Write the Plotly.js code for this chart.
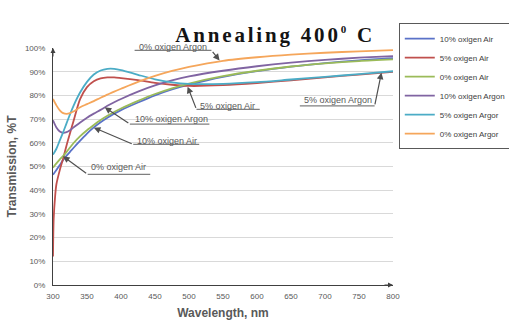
<!DOCTYPE html>
<html><head><meta charset="utf-8">
<script src="https://cdn.plot.ly/plotly-3.0.1.min.js"></script>
<style>
html,body{margin:0;padding:0;background:#fff;}
#chart{width:509px;height:320px;}
.gtitle{letter-spacing:2.8px;}
</style></head><body><div id="chart"></div>
<script>
// ---- data ----
const wavelength = [300, 305, 310, 315, 320, 325, 330, 340, 350, 360, 370, 380, 390, 400, 425, 450, 475, 500, 550, 600, 650, 700, 750, 800];
const air10   = [46.5, 48.5, 50.6, 52.8, 54.6, 56.2, 57.8, 60.9, 63.9, 66.5, 68.7, 70.6, 72.3, 73.8, 77.0, 80.0, 82.5, 84.5, 87.8, 90.2, 92.1, 93.6, 94.8, 95.7];
const air0    = [49.5, 51.3, 53.0, 54.5, 56.2, 58.0, 59.8, 62.8, 65.3, 67.5, 69.6, 71.4, 73.0, 74.5, 77.7, 80.6, 83.0, 85.0, 88.1, 90.4, 92.2, 93.5, 94.5, 95.2];
const argon10 = [69.5, 66.5, 64.8, 64.2, 64.5, 65.3, 66.4, 68.6, 70.6, 72.3, 73.9, 75.6, 77.1, 78.5, 81.6, 84.2, 86.3, 88.0, 90.4, 92.3, 93.8, 95.0, 95.9, 96.6];
const argon5  = [55.0, 57.5, 61.0, 64.5, 68.3, 72.0, 75.5, 81.3, 85.7, 88.8, 90.5, 91.2, 91.2, 90.7, 88.7, 86.8, 85.5, 84.9, 84.9, 85.6, 86.7, 87.8, 89.0, 90.2];
const argon0  = [78.5, 75.8, 73.7, 72.5, 72.2, 72.5, 73.2, 75.0, 76.3, 77.6, 79.0, 80.3, 81.6, 82.8, 85.7, 88.2, 90.3, 92.0, 94.6, 96.1, 97.2, 98.0, 98.6, 99.1];
const wavelengthAir5 = [300, 301, 303, 305, 310, 315, 320, 325, 330, 340, 350, 360, 370, 380, 390, 400, 425, 450, 475, 500, 550, 600, 650, 700, 750, 800];
const air5    = [12, 28, 37, 42.5, 48.5, 53.5, 59, 64, 69, 78.5, 83.5, 86, 87.2, 87.6, 87.6, 87.3, 86.4, 85.3, 84.5, 84.0, 84.3, 85.2, 86.4, 87.6, 88.8, 89.9];

const seriesNames = ['10% oxigen Air', '5% oxigen Air', '0% oxigen Air', '10% oxigen Argon', '5% oxigen Argor', '0% oxigen Argor'];
const xTickVals = [300, 350, 400, 450, 500, 550, 600, 650, 700, 750, 800];
const yTickVals = [0, 10, 20, 30, 40, 50, 60, 70, 80, 90, 100];

// ---- styling ----
const FONT = 'Liberation Sans, Arial, sans-serif';
const colors = ['#5a72c8', '#c0504d', '#9bbb59', '#8064a2', '#4bacc6', '#f5a65b'];
const xs = [wavelength, wavelengthAir5, wavelength, wavelength, wavelength, wavelength];
const ys = [air10, air5, air0, argon10, argon5, argon0];

const traces = ys.map((y, i) => ({
  type: 'scatter', mode: 'lines', x: xs[i], y: y, name: seriesNames[i],
  line: {color: colors[i], width: 1.8, shape: 'spline', smoothing: 0.8},
  hoverinfo: 'skip'
}));

// callout labels (text position, underline, leader arrow) in data units
const callouts = [
  {t: '0% oxigen Argon',  x: 476, y: 100.6, u0: 420, u1: 533, uy: 99.0, ex: 533, tx: 545, ty: 94.7},
  {t: '5% oxigen Air',    x: 557, y: 75.7,  u0: 511, u1: 604, uy: 74.1, ex: 511, tx: 498, ty: 83.7},
  {t: '5% oxigen Argon',  x: 719, y: 77.9,  u0: 663, u1: 773, uy: 75.6, ex: 773, tx: 783, ty: 89.6},
  {t: '10% oxigen Argon', x: 474, y: 70.0,  u0: 413, u1: 530, uy: 67.9, ex: 413, tx: 376, ty: 75.0},
  {t: '10% oxigen Air',   x: 468, y: 60.7,  u0: 418, u1: 515, uy: 59.3, ex: 418, tx: 360, ty: 66.4},
  {t: '0% oxigen Air',    x: 396, y: 49.7,  u0: 351, u1: 443, uy: 46.7, ex: 351, tx: 314.7, ty: 54.3}
];

const annotations = [];
const shapes = [];
callouts.forEach(c => {
  // y axis spans 0..100, so paper fraction = value / 100 (keeps labels above the top visible)
  annotations.push({xref: 'x', yref: 'paper', x: c.x, y: c.y / 100, text: c.t, showarrow: false,
    font: {family: FONT, size: 9, color: '#595959'}, xanchor: 'center', yanchor: 'middle'});
  shapes.push({type: 'line', xref: 'x', yref: 'y', x0: c.u0, x1: c.u1, y0: c.uy, y1: c.uy,
    line: {color: '#7f7f7f', width: 1.2}});
  annotations.push({xref: 'x', yref: 'y', axref: 'x', ayref: 'y', x: c.tx, y: c.ty, ax: c.ex, ay: c.uy,
    text: '', font: {size: 1}, showarrow: true, arrowhead: 2, arrowsize: 1.1, arrowwidth: 1.2,
    arrowcolor: '#505050', standoff: 0, startstandoff: 0});
});
// axis arrowheads
annotations.push({xref: 'paper', yref: 'paper', x: 0, y: 1, ax: 0, ay: 10,
  text: '', font: {size: 1}, showarrow: true, arrowhead: 2, arrowsize: 1, arrowwidth: 1, arrowcolor: '#404040', standoff: 0});
annotations.push({xref: 'paper', yref: 'paper', x: 1, y: 0, ax: -10, ay: 0,
  text: '', font: {size: 1}, showarrow: true, arrowhead: 2, arrowsize: 1, arrowwidth: 1, arrowcolor: '#404040', standoff: 0});

const layout = {
  width: 509, height: 320,
  margin: {l: 53, r: 116, t: 48, b: 35, autoexpand: false},
  paper_bgcolor: '#fff', plot_bgcolor: '#fff',
  font: {family: FONT, size: 8, color: '#595959'},
  title: {text: 'Annealing 400<sup><span style="font-size:11px">0</span></sup> C', xref: 'paper', x: 0.6535, xanchor: 'center',
    yref: 'container', y: 0.893, yanchor: 'middle',
    font: {family: 'Liberation Serif, Times New Roman, serif', size: 21, weight: 'bold', color: '#141414'}},
  xaxis: {range: [300, 800], tickvals: xTickVals, ticktext: xTickVals.map(String),
    showgrid: false, zeroline: false, showline: true, linecolor: '#404040', linewidth: 1,
    ticks: '', ticklabelstandoff: 3, tickfont: {family: FONT, size: 8, color: '#595959'},
    title: {text: 'Wavelength, nm', standoff: 10, font: {family: FONT, size: 12, weight: 'bold', color: '#595959'}}},
  yaxis: {range: [0, 100], tickvals: yTickVals, ticktext: yTickVals.map(v => v + '%'),
    showgrid: true, gridcolor: '#d9d9d9', gridwidth: 1, zeroline: false,
    showline: true, linecolor: '#404040', linewidth: 1,
    ticks: '', ticklabelstandoff: 5, tickfont: {family: FONT, size: 8, color: '#595959'},
    title: {text: 'Transmission, %T', standoff: 5, font: {family: FONT, size: 12, weight: 'bold', color: '#595959'}}},
  showlegend: true,
  legend: {x: 1.017, y: 1.105, xanchor: 'left', yanchor: 'top', bgcolor: '#fff',
    bordercolor: '#595959', borderwidth: 1, font: {family: FONT, size: 8, color: '#404040'},
    tracegroupgap: 0},
  annotations: annotations,
  shapes: shapes
};

Plotly.newPlot('chart', traces, layout, {staticPlot: true, displayModeBar: false});
</script>
</body></html>
